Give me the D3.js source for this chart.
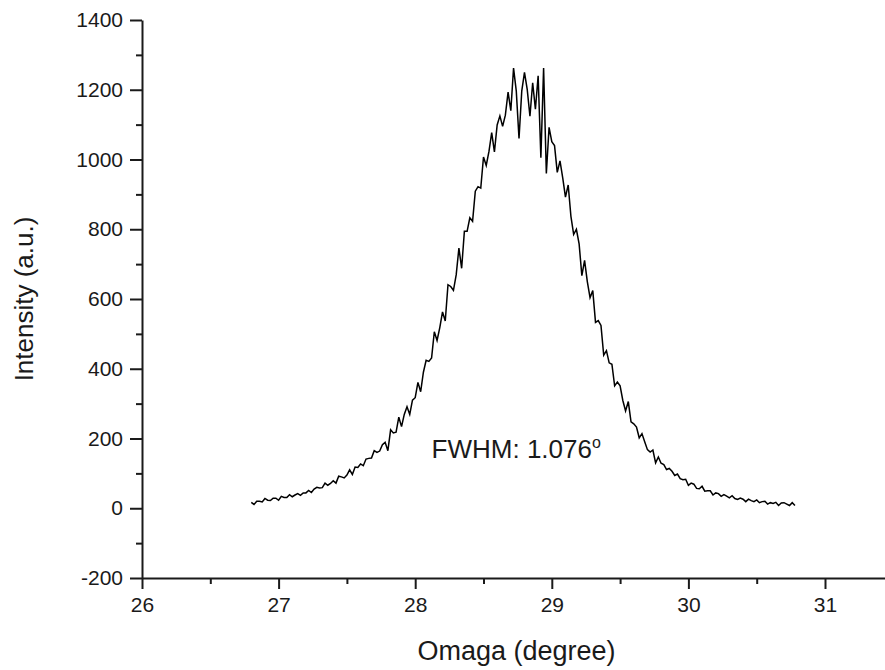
<!DOCTYPE html>
<html>
<head>
<meta charset="utf-8">
<script src="https://cdnjs.cloudflare.com/ajax/libs/d3/7.8.5/d3.min.js"></script>
<style>
  html, body { margin: 0; padding: 0; background: #fff; }
  svg { display: block; font-family: "Liberation Sans", Arial, Helvetica, sans-serif; }
  .axis path, .axis line { stroke: #1a1a1a; stroke-width: 2; }
  .axis text { fill: #1a1a1a; font-size: 21px; }
</style>
</head>
<body>
<svg id="chart" width="885" height="670"></svg>
<script>
  'use strict';

  // scan grid: omega from 26.80 to 30.78 in 0.02 degree steps
  var omegaStart = 26.80;
  var omegaStep  = 0.02;

  // intensity (a.u.), one value per step
  var intensity = [
    17, 11, 20, 20, 18, 28, 23, 22, 29, 29,
    23, 34, 31, 31, 39, 33, 38, 42, 37, 44,
    44, 51, 45, 55, 60, 58, 59, 72, 66, 71,
    79, 72, 92, 90, 87, 95, 110, 97, 118, 117,
    127, 122, 141, 143, 144, 165, 160, 164, 182, 189,
    165, 225, 216, 218, 261, 234, 269, 291, 269, 310,
    317, 361, 334, 390, 424, 421, 431, 506, 481, 518,
    563, 537, 641, 636, 625, 669, 746, 688, 794, 794,
    833, 823, 909, 922, 918, 1007, 983, 1023, 1077, 1022,
    1099, 1125, 1095, 1127, 1193, 1140, 1262, 1196, 1060, 1196,
    1250, 1201, 1124, 1220, 1144, 1240, 1005, 1262, 960, 1092,
    1051, 1040, 963, 996, 947, 892, 927, 837, 785, 800,
    758, 667, 711, 650, 604, 624, 533, 538, 524, 439,
    452, 417, 413, 351, 362, 351, 309, 279, 306, 248,
    242, 233, 202, 214, 191, 168, 161, 167, 130, 147,
    129, 125, 111, 114, 106, 94, 98, 85, 82, 83,
    66, 72, 69, 57, 56, 63, 49, 50, 50, 38,
    44, 42, 34, 39, 35, 30, 36, 28, 25, 29,
    26, 19, 26, 22, 19, 24, 16, 19, 20, 12,
    16, 14, 17, 8, 15, 16, 12, 8, 16, 8
  ];

  var xMajorTicks = [26, 27, 28, 29, 30, 31];
  var xMinorTicks = [26.5, 27.5, 28.5, 29.5, 30.5, 31.5];
  var yMajorTicks = [-200, 0, 200, 400, 600, 800, 1000, 1200, 1400];
  var yMinorTicks = [-100, 100, 300, 500, 700, 900, 1100, 1300];

  var xTitle = 'Omaga (degree)';
  var yTitle = 'Intensity (a.u.)';
  var fwhmText = 'FWHM: 1.076';
  var fwhmAt = [28.12, 143];

  (function() {
    var data = intensity.map(function(v, i) {
      return { omega: omegaStart + i * omegaStep, value: v };
    });

    var svg = d3.select('#chart');
    var plotLeft = 142, plotTop = 20, plotBottom = 578;

    var x = d3.scaleLinear().domain([26, 31.5]).range([plotLeft, plotLeft + 5.5 * 136.6]);
    var y = d3.scaleLinear().domain([-200, 1400]).range([plotBottom, plotTop]);

    var fmt = function(d) { return String(d); };

    // minor ticks first, then major axes on top
    svg.append('g').attr('class', 'axis')
      .attr('transform', 'translate(0,' + plotBottom + ')')
      .call(d3.axisBottom(x).tickValues(xMinorTicks).tickSize(6).tickFormat(''))
      .select('.domain').remove();

    svg.append('g').attr('class', 'axis')
      .attr('transform', 'translate(' + plotLeft + ',0)')
      .call(d3.axisLeft(y).tickValues(yMinorTicks).tickSize(6).tickFormat(''))
      .select('.domain').remove();

    var xAxis = svg.append('g').attr('class', 'axis')
      .attr('transform', 'translate(0,' + plotBottom + ')')
      .call(d3.axisBottom(x).tickValues(xMajorTicks).tickSize(11).tickSizeOuter(0).tickPadding(8).tickFormat(fmt));

    svg.append('g').attr('class', 'axis')
      .attr('transform', 'translate(' + plotLeft + ',0)')
      .call(d3.axisLeft(y).tickValues(yMajorTicks).tickSize(12).tickSizeOuter(0).tickPadding(7).tickFormat(fmt));

    xAxis.selectAll('text').attr('dy', '0.72em');

    var line = d3.line()
      .x(function(d) { return x(d.omega); })
      .y(function(d) { return y(d.value); });

    svg.append('path')
      .datum(data)
      .attr('fill', 'none')
      .attr('stroke', '#000')
      .attr('stroke-width', 1.5)
      .attr('d', line);

    // axis titles
    svg.append('text')
      .attr('x', (plotLeft + 885) / 2 + 3)
      .attr('y', 660)
      .attr('text-anchor', 'middle')
      .attr('font-size', 27)
      .attr('fill', '#1a1a1a')
      .text(xTitle);

    svg.append('text')
      .attr('transform', 'translate(33,' + (plotTop + plotBottom) / 2 + ') rotate(-90)')
      .attr('text-anchor', 'middle')
      .attr('font-size', 26)
      .attr('fill', '#1a1a1a')
      .text(yTitle);

    // FWHM annotation with degree mark
    var note = svg.append('text')
      .attr('x', x(fwhmAt[0]))
      .attr('y', y(fwhmAt[1]))
      .attr('font-size', 26)
      .attr('fill', '#1a1a1a')
      .text(fwhmText);
    note.append('tspan')
      .attr('dy', -10)
      .attr('font-size', 16)
      .text('o');
  })();
</script>
</body>
</html>
